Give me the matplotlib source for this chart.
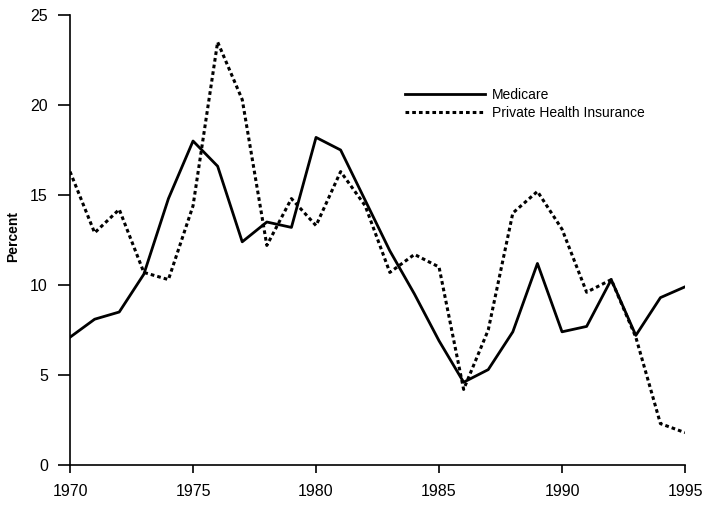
import matplotlib
matplotlib.use("Agg")
import matplotlib.pyplot as plt

# Annual percent change, 1970-1995
years = list(range(1970, 1996))
medicare = [7.1, 8.1, 8.5, 10.6, 14.8, 18.0, 16.6, 12.4, 13.5, 13.2,
            18.2, 17.5, 14.7, 11.9, 9.5, 6.9, 4.6, 5.3, 7.4, 11.2,
            7.4, 7.7, 10.3, 7.2, 9.3, 9.9]
private_ins = [16.3, 12.9, 14.2, 10.7, 10.3, 14.4, 23.5, 20.3, 12.2, 14.8,
               13.3, 16.3, 14.4, 10.7, 11.7, 11.0, 4.2, 7.5, 14.0, 15.2,
               13.1, 9.6, 10.3, 7.1, 2.3, 1.8]
x_ticks = [1970, 1975, 1980, 1985, 1990, 1995]
y_ticks = [0, 5, 10, 15, 20, 25]

plt.rcParams["font.family"] = ["Liberation Sans", "DejaVu Sans"]

fig = plt.figure(figsize=(7.06, 5.07), dpi=100, facecolor="white")
ax = fig.add_axes([0.0992, 0.0828, 0.8711, 0.8876])

ax.plot(years, medicare, color="black", linewidth=2.0, label="Medicare")
ax.plot(years, private_ins, color="black", linewidth=2.2,
        linestyle=(0, (1.2, 1.0)), label="Private Health Insurance")

ax.set_xlim(1970, 1995)
ax.set_ylim(0, 25)
ax.set_xticks(x_ticks)
ax.set_yticks(y_ticks)

for side in ["top", "right"]:
    ax.spines[side].set_visible(False)
ax.spines["left"].set_linewidth(1.2)
ax.spines["bottom"].set_linewidth(1.2)

ax.tick_params(axis="y", direction="out", length=9, width=1.2, pad=7, labelsize=11.5)
ax.tick_params(axis="x", direction="out", length=6, width=1.2, pad=8, labelsize=11.5)

ax.set_ylabel("Percent", fontsize=10, fontweight="bold")
ax.yaxis.set_label_coords(-0.081, 0.507)

ax.legend(loc="upper left", bbox_to_anchor=(0.535, 0.85), frameon=False,
          fontsize=10, handlelength=5.8, handletextpad=0.5, labelspacing=0.3,
          borderaxespad=0)

plt.savefig("out.png", dpi=100)
plt.close()
